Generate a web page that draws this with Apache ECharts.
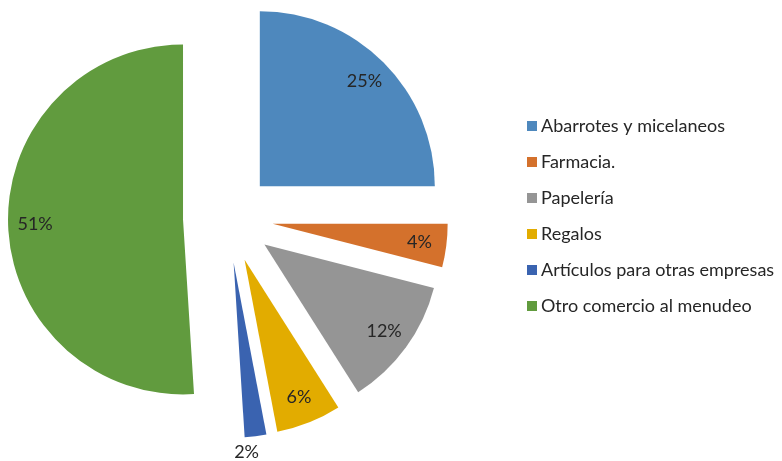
<!DOCTYPE html>
<html>
<head>
<meta charset="utf-8">
<script src="https://cdn.jsdelivr.net/npm/echarts@6/dist/echarts.min.js"></script>
<style>
  html, body { margin: 0; padding: 0; background: #fff; }
  #main { width: 782px; height: 461px; }
</style>
</head>
<body>
<div id="main"></div>
<script>
var categorias = ['Abarrotes y micelaneos', 'Farmacia.', 'Papelería', 'Regalos', 'Artículos para otras empresas', 'Otro comercio al menudeo'];
var valores = [25, 4, 12, 6, 2, 51];
var colores = ['#4E88BD', '#D4712C', '#959595', '#E2AC00', '#3A63B0', '#619B3E'];
// etiquetas que van fuera del sector (el 2%)
var etiquetaFuera = [false, false, false, false, true, false];

var centro = [228, 218];
var radio = 175;
var separacion = 45;

var myChart = echarts.init(document.getElementById('main'));

var datos = function (tipo) {
    var arr = [];
    for (var i = 0; i < categorias.length; i++) {
        var item = {
            name: categorias[i],
            value: valores[i],
            selected: true
        };
        if (tipo === 'color') {
            item.itemStyle = { color: colores[i] };
        } else {
            var ver = tipo === 'fuera' ? etiquetaFuera[i] : !etiquetaFuera[i];
            item.itemStyle = { color: 'rgba(0,0,0,0)' };
            item.label = { show: ver };
        }
        arr.push(item);
    }
    return arr;
};

var base = {
    type: 'pie',
    center: centro,
    startAngle: 90,
    clockwise: true,
    selectedMode: 'multiple',
    selectedOffset: separacion,
    animation: false,
    avoidLabelOverlap: false,
    emphasis: { disabled: true },
    select: { itemStyle: {} }
};

var etiqueta = {
    position: 'inside',
    formatter: '{d}%',
    fontFamily: 'Lato',
    fontSize: 18,
    color: '#262626'
};

var option = {
    backgroundColor: '#fff',
    legend: {
        orient: 'vertical',
        left: 522,
        top: 112,
        icon: 'rect',
        itemWidth: 10,
        itemHeight: 10,
        itemGap: 18,
        selectedMode: false,
        data: categorias.map(function (c, i) {
            return { name: c, itemStyle: { color: colores[i] } };
        }),
        textStyle: { fontFamily: 'Lato', fontSize: 18, color: '#262626', padding: [0, 0, 0, -1] }
    },
    series: [
        Object.assign({}, base, {
            name: 'sectores',
            radius: [0, radio],
            label: { show: false },
            labelLine: { show: false },
            data: datos('color')
        }),
        Object.assign({}, base, {
            name: 'etiquetas',
            radius: [115, radio],
            silent: true,
            label: Object.assign({}, etiqueta, { padding: [10, 0, 0, 0] }),
            labelLine: { show: false },
            data: datos('dentro')
        }),
        Object.assign({}, base, {
            name: 'etiquetasFuera',
            radius: [178, 198],
            silent: true,
            label: Object.assign({}, etiqueta, { padding: [0, 22, 0, 0] }),
            labelLine: { show: false },
            data: datos('fuera')
        })
    ]
};
myChart.setOption(option);
</script>
</body>
</html>
